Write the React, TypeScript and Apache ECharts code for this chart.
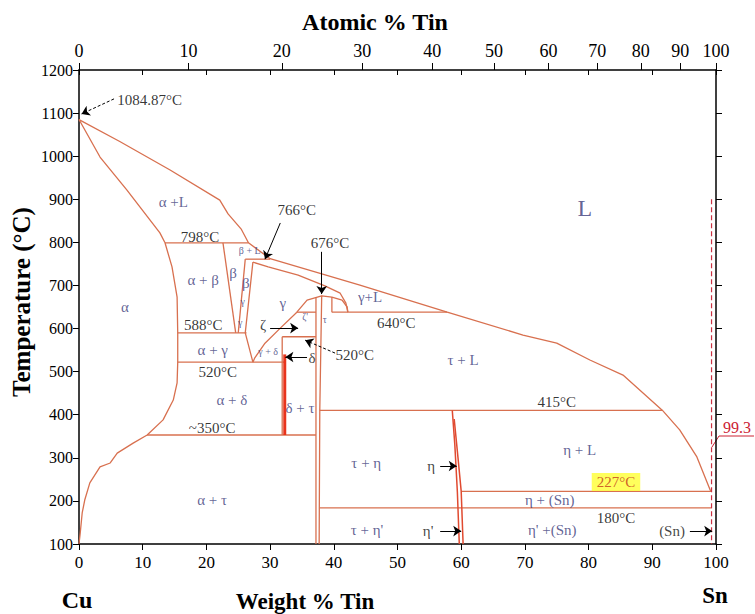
import React, { useEffect, useRef } from 'react';
import * as echarts from 'echarts';

// ---------- data (wt% Sn, °C) ----------
const liquidus = [[0,1085],[6.4,1034],[14.3,968],[22.1,898],[23.4,866],[25.5,830],[26.6,799],[30.0,762],[44.1,701],[57.8,638],[69.7,585],[75.0,566],[80.2,527],[85.4,492],[91.6,410],[94.3,365],[97.0,302],[99.1,225],[99.3,222]];
const alphaSolidus = [[0,1085],[3.3,998],[7.5,922],[12.7,822],[13.5,799]];
const alphaSolvus = [[13.5,799],[14.6,743],[15.4,673],[15.5,590],[15.5,522],[15.4,474],[14.8,434],[13.2,388],[10.7,353],[8.5,334],[6.0,311],[4.9,288],[3.3,279],[1.7,242],[0.9,202],[0.5,172],[0.2,126],[0,100]];
const iso798 = [[13.5,799],[26.6,799]];
const betaLeft = [[22.6,799],[24.6,590]];
const betaRight = [[26.1,761],[25.0,590]];
const gammaLeft = [[27.3,754],[26.1,590],[27.3,522]];
const iso766 = [[26.1,761],[30.0,761]];
const gammaSolidus = [[27.3,754],[29.7,743],[34.4,724],[38.6,699],[41.0,682],[41.9,659],[42.2,638]];
const epsDome = [[34.2,638],[35.8,666],[38.1,676],[39.7,673],[41.3,666],[42.1,650],[42.2,638]];
const gammaLower = [[34.2,638],[31.6,601],[29.2,566],[27.6,532],[27.3,522]];
const iso640 = [[39.7,638],[57.8,638]];
const epsStub = [[39.7,673],[39.7,638]];
const epsLeft = [[37.2,672],[37.2,100]];
const epsRight = [[38.1,676],[37.8,410],[37.7,100]];
const zetaTop = [[34.2,638],[37.2,638]];
const zetaBottom = [[31.9,581],[37.2,581]];
const zetaLeft = [[31.9,581],[31.9,353]];
const deltaPhase = [[32.3,540],[32.3,353]];
const iso588 = [[15.5,590],[26.3,590]];
const iso520 = [[15.5,522],[32.2,522]];
const iso350 = [[10.7,353],[37.2,353]];
const iso415 = [[37.8,410],[91.6,410]];
const etaLeft = [[58.6,410],[59.0,330],[59.4,220],[59.7,100]];
const etaRight = [[58.9,390],[59.5,300],[60.0,222],[60.3,100]];
const iso227 = [[60.0,222],[99.3,222]];
const iso180 = [[37.7,184],[99.3,184]];
const sn993 = [[99.3,900],[99.3,100]];

const weightTicks = [0,10,20,30,40,50,60,70,80,90,100];
const atomicTicks = [0,10,20,30,40,50,60,70,80,90,100];

// [text, wt%, °C]
const tempLabels: [string, number, number][] = [
  ['1084.87°C', 11.1, 1130],
  ['798°C', 19.0, 812],
  ['766°C', 34.2, 875],
  ['676°C', 39.4, 799],
  ['588°C', 19.5, 608],
  ['520°C', 21.8, 499],
  ['~350°C', 20.9, 369],
  ['640°C', 49.8, 613],
  ['520°C', 43.3, 539],
  ['415°C', 75.0, 430],
  ['180°C', 84.3, 160],
];
const phaseLabels: [string, number, number][] = [
  ['α +L', 14.8, 894],
  ['α + β', 19.5, 713],
  ['β', 24.2, 729],
  ['β', 26.2, 706],
  ['γ', 32.0, 659],
  ['α + γ', 21.0, 550],
  ['α + δ', 24.0, 434],
  ['α + τ', 20.9, 202],
  ['α', 7.2, 650],
  ['δ + τ', 34.7, 416],
  ['γ+L', 45.7, 673],
  ['τ + L', 60.3, 527],
  ['η + L', 78.6, 318],
  ['τ + η', 45.1, 288],
  ['η + (Sn)', 73.9, 202],
  ["η' +(Sn)", 74.3, 132],
  ["τ + η'", 45.2, 132],
];
const smallLabels: [string, number, number][] = [
  ['β + L', 26.8, 782],
  ['γ', 25.7, 662],
  ['γ', 25.3, 613],
  ["ζ'", 35.5, 627],
  ['τ', 38.6, 620],
  ['γ + δ', 29.7, 546],
];
const pointerLabels: [string, number, number][] = [
  ['ζ', 28.9, 608],
  ['δ', 36.6, 532],
  ['η', 55.3, 281],
  ["η'", 54.8, 130],
  ['(Sn)', 93.1, 130],
];
const bigLabels: [string, number, number][] = [['L', 79.4, 880]];
const eutecticLabel: [string, number, number] = ['227°C', 84.3, 244];

// arrows: [from, to, dashed]
const arrows: [number[], number[], boolean][] = [
  [[5.5,1133],[0.4,1098], true],
  [[31.6,845],[29.2,761], false],
  [[38.1,778],[38.1,680], false],
  [[30.0,601],[34.4,601], false],
  [[35.8,534],[32.4,534], false],
  [[40.2,543],[35.5,573], true],
  [[56.7,281],[59.3,281], false],
  [[56.7,130],[60.0,130], false],
  [[95.9,130],[99.4,130], false],
];

const SERIF = '"Liberation Serif", "Times New Roman", "DejaVu Serif", serif';
const BOUND = '#d8704f';
const PHASE = '#3b3b7a';

export default function App() {
  const ref = useRef<HTMLDivElement>(null);
  useEffect(() => {
    if (!ref.current) return;
    const chart = echarts.init(ref.current, undefined, { renderer: 'svg' });
    const atomicPos = atomicTicks.map(a => (a * 118.71) / (a * 118.71 + (100 - a) * 63.546) * 100);

    const boundaries: [number[][], string, number, any?][] = [
      [liquidus, BOUND, 1.3], [alphaSolidus, BOUND, 1.3], [alphaSolvus, BOUND, 1.3],
      [iso798, BOUND, 1.3], [betaLeft, BOUND, 1.3], [betaRight, BOUND, 1.3], [gammaLeft, BOUND, 1.3],
      [iso766, BOUND, 1.3], [gammaSolidus, BOUND, 1.3], [epsDome, BOUND, 1.3], [gammaLower, BOUND, 1.3],
      [iso640, BOUND, 1.3], [epsStub, BOUND, 1.3], [epsLeft, BOUND, 1.3], [epsRight, BOUND, 1.3],
      [zetaTop, BOUND, 1.3], [zetaBottom, BOUND, 1.3], [zetaLeft, BOUND, 1.3],
      [iso588, BOUND, 1.3], [iso520, BOUND, 1.3], [iso350, BOUND, 1.3], [iso415, BOUND, 1.3],
      [iso227, BOUND, 1.3], [iso180, BOUND, 1.3],
      [etaLeft, '#e04a30', 1.5], [etaRight, '#e04a30', 1.5],
      [deltaPhase, '#e8341c', 3],
      [sn993, '#cc3344', 1.2, [5, 3]],
    ];

    const lineSeries = boundaries.map(([d, c, w, dash]) => ({
      type: 'line', data: d, symbol: 'none', showSymbol: false, silent: true, clip: false,
      lineStyle: { color: c, width: w, type: dash ? dash : 'solid' }, z: 2,
    }));

    const lab = (arr: [string, number, number][], style: any) => arr.map(([t, x, y]) => ({
      name: t, value: [x, y], label: style,
    }));

    const labelData = [
      ...lab(tempLabels, { color: '#000', fontSize: 15 }),
      ...lab(phaseLabels, { color: PHASE, fontSize: 15 }),
      ...lab(smallLabels, { color: PHASE, fontSize: 10 }),
      ...lab(pointerLabels, { color: '#111', fontSize: 15 }),
      ...lab(bigLabels, { color: PHASE, fontSize: 24 }),
      ...lab([eutecticLabel], { color: '#c23a1a', fontSize: 15, backgroundColor: '#ffff33', padding: [2, 5, 1, 5] }),
    ];

    const option: any = {
      animation: false,
      grid: { left: 79, top: 70, right: 39, bottom: 70, containLabel: false },
      xAxis: [
        {
          type: 'value', position: 'bottom', min: 0, max: 100, interval: 10,
          axisLine: { onZero: false, lineStyle: { color: '#000', width: 1.5 } },
          axisTick: { length: 6, lineStyle: { color: '#000' } },
          axisLabel: { color: '#000', fontFamily: SERIF, fontSize: 17, margin: 10,
            customValues: weightTicks },
          splitLine: { show: false },
        },
        {
          type: 'value', position: 'top', min: 0, max: 100,
          axisLine: { onZero: false, lineStyle: { color: '#000', width: 1.5 } },
          axisTick: { length: 7, lineStyle: { color: '#000' }, customValues: atomicPos },
          axisLabel: {
            color: '#000', fontFamily: SERIF, fontSize: 18, margin: 10, customValues: atomicPos,
            formatter: (v: number) => {
              const i = atomicPos.findIndex(p => Math.abs(p - v) < 1e-6);
              return i >= 0 ? String(atomicTicks[i]) : '';
            },
          },
          splitLine: { show: false },
        },
        {
          type: 'value', position: 'top', min: 0, max: 100, interval: 10, offset: 0,
          axisLine: { show: false, onZero: false },
          axisTick: { inside: true, length: 5, lineStyle: { color: '#000' } },
          axisLabel: { show: false },
          splitLine: { show: false },
        },
      ],
      yAxis: [
        {
          type: 'value', position: 'left', min: 100, max: 1200, interval: 100,
          axisLine: { show: true, onZero: false, lineStyle: { color: '#000', width: 1.5 } },
          axisTick: { show: true, length: 6, lineStyle: { color: '#000' } },
          axisLabel: { color: '#000', fontFamily: SERIF, fontSize: 16, margin: 6, formatter: (v: number) => String(v) },
          splitLine: { show: false },
        },
        {
          type: 'value', position: 'right', min: 100, max: 1200, interval: 100,
          axisLine: { show: true, onZero: false, lineStyle: { color: '#000', width: 1.5 } },
          axisTick: { show: true, length: 6, lineStyle: { color: '#000' } },
          axisLabel: { show: false },
          splitLine: { show: false },
        },
      ],
      series: [
        ...lineSeries,
        {
          type: 'lines', coordinateSystem: 'cartesian2d', xAxisIndex: 0, yAxisIndex: 0,
          silent: true, z: 4, symbol: ['none', 'arrow'], symbolSize: 8,
          lineStyle: { color: '#000', width: 1, opacity: 1 },
          data: arrows.map(([a, b, dashed]) => ({
            coords: [a, b],
            lineStyle: { color: '#000', width: 1, type: dashed ? [3, 2] : 'solid' },
          })),
        },
        {
          type: 'scatter', data: labelData, symbolSize: 0, silent: true, clip: false, z: 5,
          label: { show: true, position: 'inside', formatter: '{b}', fontFamily: SERIF },
        },
      ],
      graphic: [
        { type: 'text', x: 375, y: 22, style: { text: 'Atomic % Tin', font: `bold 24px ${SERIF}`, fill: '#000', align: 'center', verticalAlign: 'middle' } },
        { type: 'text', x: 305, y: 601, style: { text: 'Weight % Tin', font: `bold 23px ${SERIF}`, fill: '#000', align: 'center', verticalAlign: 'middle' } },
        { type: 'text', x: 77, y: 600, style: { text: 'Cu', font: `bold 24px ${SERIF}`, fill: '#000', align: 'center', verticalAlign: 'middle' } },
        { type: 'text', x: 715, y: 595, style: { text: 'Sn', font: `bold 23px ${SERIF}`, fill: '#000', align: 'center', verticalAlign: 'middle' } },
        { type: 'text', x: 21, y: 302, rotation: Math.PI / 2, style: { text: 'Temperature (°C)', font: `bold 25px ${SERIF}`, fill: '#000', align: 'center', verticalAlign: 'middle' } },
        { type: 'text', x: 737, y: 427, style: { text: '99.3', font: `16px ${SERIF}`, fill: '#cc2233', align: 'center', verticalAlign: 'middle' } },
        { type: 'line', shape: { x1: 719, y1: 436, x2: 754, y2: 436 }, style: { stroke: '#cc2233', lineWidth: 1 } },
        { type: 'line', shape: { x1: 719, y1: 436, x2: 712, y2: 447 }, style: { stroke: '#cc2233', lineWidth: 1 } },
      ],
    };
    chart.setOption(option);
    return () => chart.dispose();
  }, []);
  return <div ref={ref} style={{ position: 'absolute', left: 0, top: 0, width: 755, height: 614, background: '#fff' }} />;
}
